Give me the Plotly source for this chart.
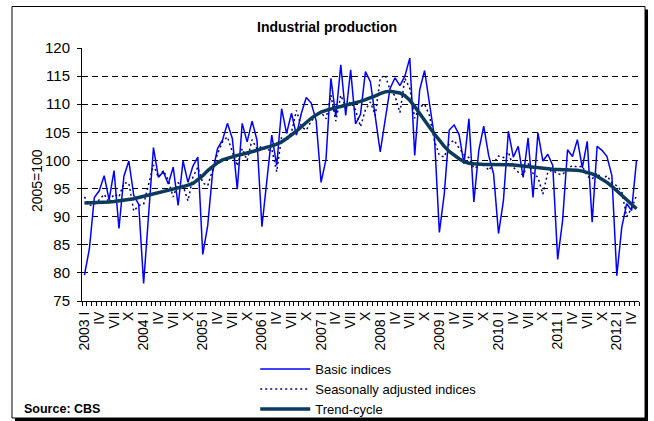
import plotly.graph_objects as go

# Monthly indices, Jan 2003 .. May 2012 (2005=100)
basic_indices = [
    79.6, 84.3, 93.4, 94.6, 97.3, 93.0, 98.2, 87.9, 97.2, 99.9, 93.8, 92.2,
    78.1, 91.0, 102.3, 97.0, 98.0, 95.8, 98.8, 92.0, 99.9, 96.1, 99.0, 100.6,
    83.3, 88.4, 97.9, 102.1, 103.6, 106.6, 103.9, 94.9, 106.6, 103.3, 107.0, 103.6,
    88.2, 96.4, 104.5, 99.1, 109.2, 104.8, 108.4, 104.5, 108.4, 111.2, 110.2, 107.1,
    96.1, 100.2, 114.6, 107.8, 117.0, 108.0, 116.1, 106.5, 108.2, 115.8, 114.0, 107.8,
    101.5, 107.2, 112.8, 114.7, 113.3, 115.0, 118.2, 100.9, 112.5, 116.0, 110.5, 104.2,
    87.2, 94.1, 105.4, 106.3, 104.6, 99.4, 107.4, 92.6, 101.8, 106.1, 100.9, 97.6,
    87.0, 92.9, 105.2, 100.6, 102.5, 97.0, 104.0, 93.4, 104.9, 99.9, 101.1, 99.1,
    82.4, 89.3, 101.9, 100.7, 103.7, 98.7, 103.4, 89.0, 102.5, 101.8, 100.7, 97.3,
    79.5, 88.1, 92.3, 91.1, 100.0,
]

seasonally_adjusted = [
    93.5, 92.0, 92.2, 93.0, 94.0, 92.5, 94.0, 93.5, 96.0, 96.0, 91.0, 92.0,
    92.2, 95.5, 99.2, 97.0, 98.2, 96.5, 93.5, 96.0, 95.5, 92.8, 97.0, 98.8,
    96.0, 95.5, 98.2, 101.2, 103.3, 104.2, 101.5, 99.0, 102.1, 100.0, 103.7, 102.0,
    102.5, 101.8, 102.0, 98.0, 104.2, 103.5, 105.0, 108.9, 106.0, 105.4, 107.0, 108.0,
    108.6, 107.4, 111.6, 107.0, 111.6, 109.5, 110.4, 109.0, 106.0, 109.0, 110.4, 108.0,
    114.6, 115.2, 112.5, 111.5, 108.5, 114.6, 112.8, 107.5, 109.5, 110.0, 108.0, 103.5,
    100.9, 100.6, 103.0, 103.6, 102.2, 101.0, 100.5, 98.6, 99.0, 99.5, 98.2, 99.5,
    100.8, 100.5, 101.5, 98.8, 97.9, 97.4, 99.5, 97.7, 97.0, 94.0, 97.9, 98.3,
    97.6, 97.5, 98.5, 99.1, 98.8, 99.0, 97.2, 96.7, 97.8, 96.6, 97.3, 96.0,
    95.5, 94.5, 90.0, 91.5, 93.8,
]

trend_cycle = [
    92.45, 92.45, 92.5, 92.5, 92.55, 92.6, 92.7, 92.8, 92.9, 93.0, 93.2, 93.4,
    93.6, 93.85, 94.1, 94.3, 94.5, 94.7, 94.9, 95.1, 95.35, 95.6, 95.9, 96.6,
    97.3, 98.2, 99.0, 99.6, 100.1, 100.4, 100.7, 100.9, 101.1, 101.3, 101.6, 101.8,
    102.1, 102.3, 102.6, 102.9, 103.3, 103.9, 104.5, 105.2, 106.0, 106.8, 107.5, 108.1,
    108.6, 108.9, 109.2, 109.4, 109.6, 109.8, 110.0, 110.25, 110.5, 110.8, 111.1, 111.5,
    111.9, 112.2, 112.3, 112.2, 112.0, 111.5, 110.7, 109.6, 108.3, 107.1, 105.9, 104.7,
    103.5, 102.5, 101.6, 100.9, 100.3, 99.8, 99.5, 99.4, 99.3, 99.3, 99.3, 99.3,
    99.3, 99.3, 99.3, 99.2, 99.1, 99.0, 98.8, 98.7, 98.6, 98.55, 98.5, 98.45,
    98.4, 98.4, 98.35, 98.3, 98.25, 98.1, 97.9, 97.6, 97.2, 96.7, 96.1, 95.4,
    94.6, 93.8, 92.9, 92.1, 91.4,
]

tick_labels = [
    "2003 I", "IV", "VII", "X", "2004 I", "IV", "VII", "X",
    "2005 I", "IV", "VII", "X", "2006 I", "IV", "VII", "X",
    "2007 I", "IV", "VII", "X", "2008 I", "IV", "VII", "X",
    "2009 I", "IV", "VII", "X", "2010 I", "IV", "VII", "X",
    "2011 I", "IV", "VII", "X", "2012 I", "IV",
]

months = list(range(len(basic_indices)))
tick_pos = months[::3]

FONT = "Liberation Sans, Arial, sans-serif"

fig = go.Figure()
fig.add_trace(go.Scatter(
    x=months, y=basic_indices, mode="lines", name="Basic indices",
    line=dict(color="#0000FF", width=1.5),
))
fig.add_trace(go.Scatter(
    x=months, y=seasonally_adjusted, mode="lines", name="Seasonally adjusted indices",
    line=dict(color="#000080", width=1.5, dash="2px,3px"),
))
fig.add_trace(go.Scatter(
    x=months, y=trend_cycle, mode="lines", name="Trend-cycle",
    line=dict(color="#0B3A5C", width=3.5),
))

# chart frame with shadow (paper coords relative to plot area 82..639 x 48..301)
fig.add_shape(type="rect", xref="paper", yref="paper", layer="below",
              x0=-0.1203, x1=1.0162, y0=-0.4743, y1=1.1522,
              fillcolor="black", line=dict(width=0))
fig.add_shape(type="rect", xref="paper", yref="paper", layer="below",
              x0=-0.1257, x1=1.0108, y0=-0.4625, y1=1.164,
              fillcolor="white", line=dict(color="black", width=1))

fig.add_annotation(text="2005=100", xref="paper", yref="paper",
                   x=-0.0808, y=0.478, xanchor="center", yanchor="middle",
                   textangle=-90, showarrow=False,
                   font=dict(size=14, color="black"))
fig.add_annotation(text="<b>Source: CBS</b>", xref="paper", yref="paper",
                   x=-0.1077, y=-0.427, xanchor="left", yanchor="middle",
                   showarrow=False, font=dict(size=12.5, color="black"))

fig.update_layout(
    width=654, height=421,
    margin=dict(l=82, r=15, t=48, b=120, autoexpand=False),
    paper_bgcolor="white", plot_bgcolor="white",
    font=dict(family=FONT, color="black", size=13),
    title=dict(text="<b>Industrial production</b>", x=0.5, xanchor="center",
               y=1 - 27 / 421, yanchor="middle", font=dict(size=14)),
    showlegend=True,
    legend=dict(x=0.311, y=-0.21, xanchor="left", yanchor="top",
                bgcolor="rgba(0,0,0,0)", font=dict(size=13),
                itemwidth=50, tracegroupgap=0),
    xaxis=dict(
        range=[-0.5, len(months) - 0.5], tickvals=tick_pos, ticktext=tick_labels,
        tickangle=-90, ticks="", showgrid=False, zeroline=False, automargin=False,
        showline=True, linecolor="black", linewidth=1,
        tickfont=dict(size=14), ticklabelstandoff=4,
        minor=dict(ticks="outside", dtick=1, tick0=0.5, ticklen=4,
                   tickcolor="black", showgrid=False),
    ),
    yaxis=dict(
        range=[75, 120], dtick=5, ticks="outside", ticklen=4, tickcolor="black",
        showline=True, linecolor="black", linewidth=1, zeroline=False, automargin=False,
        showgrid=True, gridcolor="black", gridwidth=1, griddash="6px,4px",
        tickfont=dict(size=15), ticklabelstandoff=4,
    ),
)

fig.write_html("out.html", config={"displayModeBar": False},
               post_script="document.body.style.margin='0';")
